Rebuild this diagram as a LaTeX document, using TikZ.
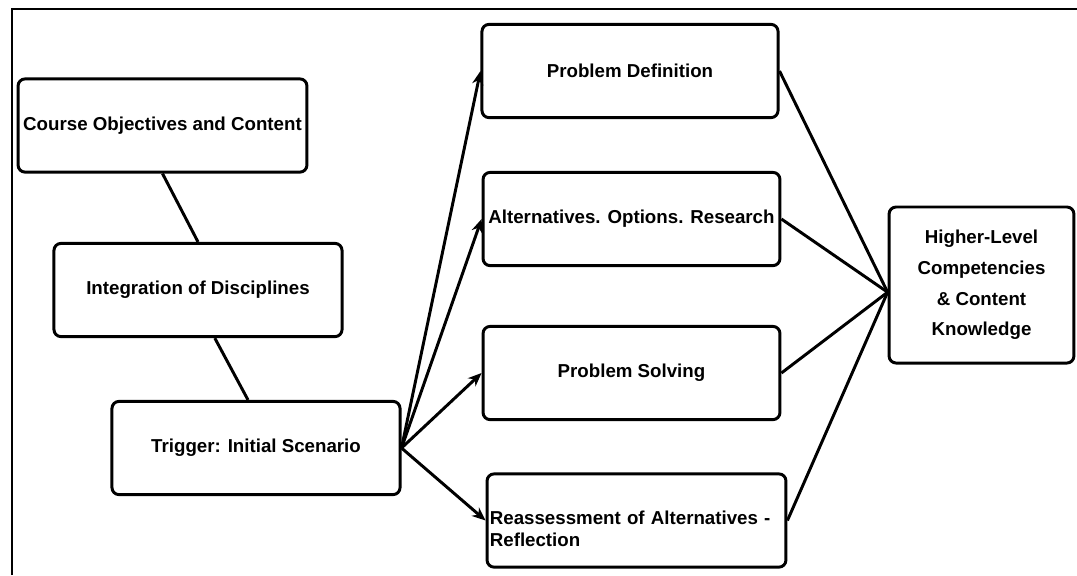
\documentclass[tikz,border=0pt]{standalone}
\usepackage{fontspec}
\setmainfont{Liberation Sans}
\usetikzlibrary{arrows.meta,calc}

\begin{document}
\begin{tikzpicture}[x=0.025cm, y=-0.025cm, line width=2.1pt]
  % --- Estilos ---
  \tikzset{box/.style={draw, rounded corners=5pt, fill=white, align=center, inner sep=2pt,
                       font=\bfseries\fontsize{13.3}{15.6}\selectfont, minimum height=2.33cm},
           flowarrow/.style={-{Stealth[length=3.4mm, width=2.8mm]}}}

  \useasboundingbox (0,0) rectangle (1077,575);

  % --- Marco ---
  \draw (12,575) -- (12,9) -- (1077,9);

  % --- Columna izquierda ---
  \node[box, minimum width=7.22cm] (course) at (162.5,125.5) {Course Objectives and Content};
  \node[box, minimum width=7.2cm] (integ) at (198,290) {Integration of Disciplines};
  \node[box, minimum width=7.2cm] (trigger) at (256,448) {Trigger: Initial Scenario};

  % --- Columna central ---
  \node[box, minimum width=7.4cm] (probdef) at (630,71) {Problem Definition};
  \node[box, minimum width=7.42cm] (altern) at (631.5,219) {Alternatives. Options. Research};
  \node[box, minimum width=7.42cm] (probsolv) at (631.5,373) {Problem Solving};
  \node[box, text width=7.33cm, align=left, text depth=4.5pt] (reassess) at (636.5,520.5)
    {Reassessment of Alternatives -\\ Reflection};

  % --- Resultado ---
  \node[box, minimum width=4.62cm, minimum height=3.9cm,
        font=\bfseries\fontsize{13.3}{21.8}\selectfont] (higher) at (981.5,285)
    {Higher-Level\\ Competencies\\ \& Content\\ Knowledge};

  % --- Conexiones ---
  \draw (course.south) -- (integ.north);
  \draw ([xshift=0.42cm]integ.south) -- ([xshift=-0.2cm]trigger.north);
  \foreach \t in {probdef, altern, probsolv, reassess}
    \draw[flowarrow] (trigger.east) -- (\t.west);

  \coordinate (hub) at ([yshift=-0.18cm]higher.west);
  \foreach \s in {probdef, altern, probsolv, reassess}
    \draw (\s.east) -- (hub);

\end{tikzpicture}
\end{document}
